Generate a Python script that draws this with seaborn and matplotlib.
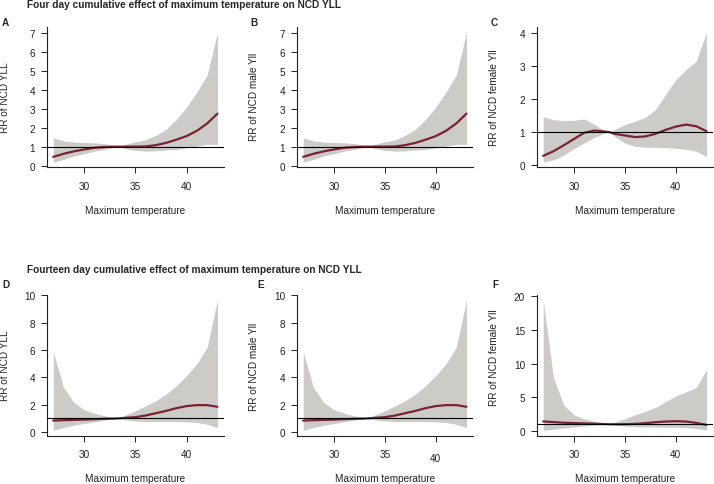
import numpy as np
import pandas as pd
import matplotlib
matplotlib.use("Agg")
import matplotlib.pyplot as plt
import seaborn as sns

# ---------------- data ----------------
temp = [27, 28, 29, 30, 31, 32, 33, 33.5, 34, 35, 36, 37, 38, 39, 40, 41, 42, 43]

# Four-day cumulative effect
rr_all_4 = [0.46, 0.62, 0.75, 0.85, 0.94, 0.98, 1.0, 1.0, 1.0, 1.0, 1.01, 1.08, 1.2, 1.37, 1.56, 1.84, 2.23, 2.75]
up_all_4 = [1.47, 1.30, 1.24, 1.22, 1.20, 1.16, 1.06, 1.0, 1.12, 1.26, 1.36, 1.60, 1.92, 2.45, 3.10, 3.90, 4.80, 7.05]
lo_all_4 = [0.18, 0.32, 0.50, 0.62, 0.76, 0.85, 0.97, 1.0, 0.90, 0.80, 0.76, 0.78, 0.82, 0.85, 0.94, 1.03, 1.12, 1.12]

rr_male_4 = [0.46, 0.62, 0.75, 0.85, 0.94, 0.98, 1.0, 1.0, 1.0, 1.0, 1.01, 1.08, 1.2, 1.37, 1.56, 1.84, 2.23, 2.75]
up_male_4 = [1.47, 1.30, 1.24, 1.22, 1.20, 1.16, 1.06, 1.0, 1.12, 1.26, 1.36, 1.60, 1.92, 2.45, 3.10, 3.90, 4.80, 7.05]
lo_male_4 = [0.18, 0.32, 0.50, 0.62, 0.76, 0.85, 0.97, 1.0, 0.90, 0.80, 0.76, 0.78, 0.82, 0.85, 0.94, 1.03, 1.12, 1.12]

rr_female_4 = [0.28, 0.42, 0.60, 0.79, 0.98, 1.05, 1.02, 1.0, 0.95, 0.90, 0.85, 0.87, 0.95, 1.07, 1.17, 1.23, 1.18, 1.03]
up_female_4 = [1.47, 1.38, 1.35, 1.36, 1.40, 1.24, 1.05, 1.0, 1.08, 1.23, 1.33, 1.45, 1.69, 2.15, 2.60, 2.90, 3.16, 4.03]
lo_female_4 = [0.09, 0.16, 0.30, 0.50, 0.67, 0.84, 0.97, 1.0, 0.87, 0.67, 0.57, 0.54, 0.54, 0.53, 0.51, 0.48, 0.42, 0.26]

# Fourteen-day cumulative effect
rr_all_14 = [0.83, 0.86, 0.88, 0.90, 0.93, 0.96, 0.98, 1.0, 1.03, 1.08, 1.20, 1.37, 1.54, 1.74, 1.89, 1.96, 1.96, 1.84]
up_all_14 = [5.83, 3.26, 2.16, 1.62, 1.37, 1.18, 1.04, 1.0, 1.23, 1.54, 1.91, 2.28, 2.77, 3.38, 4.12, 4.98, 6.20, 9.63]
lo_all_14 = [0.12, 0.32, 0.49, 0.61, 0.74, 0.86, 0.95, 1.0, 0.88, 0.80, 0.76, 0.76, 0.76, 0.76, 0.74, 0.69, 0.56, 0.32]

rr_male_14 = [0.83, 0.86, 0.88, 0.90, 0.93, 0.96, 0.98, 1.0, 1.03, 1.08, 1.20, 1.37, 1.54, 1.74, 1.89, 1.96, 1.96, 1.84]
up_male_14 = [5.83, 3.26, 2.16, 1.62, 1.37, 1.18, 1.04, 1.0, 1.23, 1.54, 1.91, 2.28, 2.77, 3.38, 4.12, 4.98, 6.20, 9.63]
lo_male_14 = [0.12, 0.32, 0.49, 0.61, 0.74, 0.86, 0.95, 1.0, 0.88, 0.80, 0.76, 0.76, 0.76, 0.76, 0.74, 0.69, 0.56, 0.32]

rr_female_14 = [1.42, 1.32, 1.22, 1.17, 1.12, 1.08, 1.03, 1.0, 1.0, 1.0, 1.05, 1.15, 1.30, 1.40, 1.45, 1.40, 1.20, 0.90]
up_female_14 = [19.4, 7.9, 3.86, 2.4, 1.8, 1.42, 1.1, 1.0, 1.3, 1.8, 2.4, 2.9, 3.5, 4.35, 5.2, 5.8, 6.45, 9.1]
lo_female_14 = [0.10, 0.25, 0.45, 0.60, 0.73, 0.83, 0.93, 1.0, 0.88, 0.73, 0.65, 0.60, 0.60, 0.55, 0.55, 0.50, 0.35, 0.15]

x_ticks = [30, 35, 40]
title_4 = "Four day cumulative effect of maximum temperature on NCD YLL"
title_14 = "Fourteen day cumulative effect of maximum temperature on NCD YLL"
x_label = "Maximum temperature"

# ---------------- style ----------------
sns.set_style("ticks")
plt.rcParams['font.family'] = ['Liberation Sans', 'DejaVu Sans']
FS = 7.2
LINE_C = "#7a2230"
BAND_C = "#cccbc8"
TXT_C = "#222222"

W, H = 714, 485
fig = plt.figure(figsize=(W / 100, H / 100), dpi=100)


def px_axes(left, right, top, bottom):
    return fig.add_axes([left / W, 1 - bottom / H, (right - left) / W, (bottom - top) / H])


def ftext(x, y, s, fs=FS, **kw):
    fig.text(x / W, 1 - y / H, s, fontsize=fs, **kw)


panels = [
    # letter, ylabel, rr, up, lo, yticks, box(l, r, t, b), letter pos, ylabel center
    ("A", "RR of NCD YLL", rr_all_4, up_all_4, lo_all_4, list(range(0, 8)),
     (46.7, 224, 28.3, 168.3), (1.7, 25.7), (5, 98)),
    ("B", "RR of NCD male Yll", rr_male_4, up_male_4, lo_male_4, list(range(0, 8)),
     (296.7, 473, 28.3, 168.3), (250, 25.7), (254, 97)),
    ("C", "RR of NCD female Yll", rr_female_4, up_female_4, lo_female_4, list(range(0, 5)),
     (536.7, 713, 28.3, 168.3), (491, 25.7), (494, 98)),
    ("D", "RR of NCD YLL", rr_all_14, up_all_14, lo_all_14, list(range(0, 11, 2)),
     (46.7, 224, 296, 436.5), (2, 288.5), (5, 366)),
    ("E", "RR of NCD male Yll", rr_male_14, up_male_14, lo_male_14, list(range(0, 11, 2)),
     (296.7, 473, 296, 436.5), (257, 287.8), (254, 367)),
    ("F", "RR of NCD female Yll", rr_female_14, up_female_14, lo_female_14, list(range(0, 21, 5)),
     (536.7, 713, 296, 436.5), (492, 287.5), (494, 358)),
]

XPAD = 5.7
for letter, ylab, rr, up, lo, yt, box, lpos, ylpos in panels:
    ax = px_axes(*box)
    df = pd.DataFrame({"temp": temp, "rr": rr, "upper": up, "lower": lo})
    ax.fill_between(df["temp"], df["lower"], df["upper"], color=BAND_C, lw=0, zorder=1)
    sns.lineplot(data=df, x="temp", y="rr", ax=ax, color=LINE_C, lw=1.6,
                 sort=False, errorbar=None, zorder=2)
    ax.axhline(1, color="black", lw=0.8, zorder=3)

    span = max(up) - min(lo)
    ax.set_ylim(min(lo) - 0.04 * span, max(up) + 0.04 * span)
    xspan = max(temp) - min(temp)
    ax.set_xlim(min(temp) - 0.04 * xspan, max(temp) + 0.04 * xspan)
    ax.set_xticks(x_ticks)
    ax.set_yticks(yt)
    ax.set_xlabel("")
    ax.set_ylabel("")
    for s in ["top", "right"]:
        ax.spines[s].set_visible(False)
    for s in ["left", "bottom"]:
        ax.spines[s].set_linewidth(0.8)
        ax.spines[s].set_color(TXT_C)
    ax.tick_params(axis="both", length=4, width=0.7, color=TXT_C,
                   labelsize=FS, labelcolor=TXT_C)
    ax.tick_params(axis="x", pad=XPAD)
    ax.tick_params(axis="y", pad=4.4)
    ax.set_facecolor("white")
    if letter == "E":
        ax.xaxis.get_major_ticks()[2].set_pad(XPAD + 3)

    l, r, t, b = box
    ftext((l + r) / 2, b + 45.5, x_label, ha="center", va="baseline", color=TXT_C)
    ftext(ylpos[0], ylpos[1], ylab, ha="center", va="center", rotation=90, color=TXT_C)
    ftext(lpos[0], lpos[1], letter, ha="left", va="baseline", fontweight="bold")

ftext(26.7, 8.3, title_4, fs=7.3, ha="left", va="baseline", fontweight="bold")
ftext(26.7, 272.7, title_14, fs=7.3, ha="left", va="baseline", fontweight="bold")

fig.savefig("out.png", dpi=100)
